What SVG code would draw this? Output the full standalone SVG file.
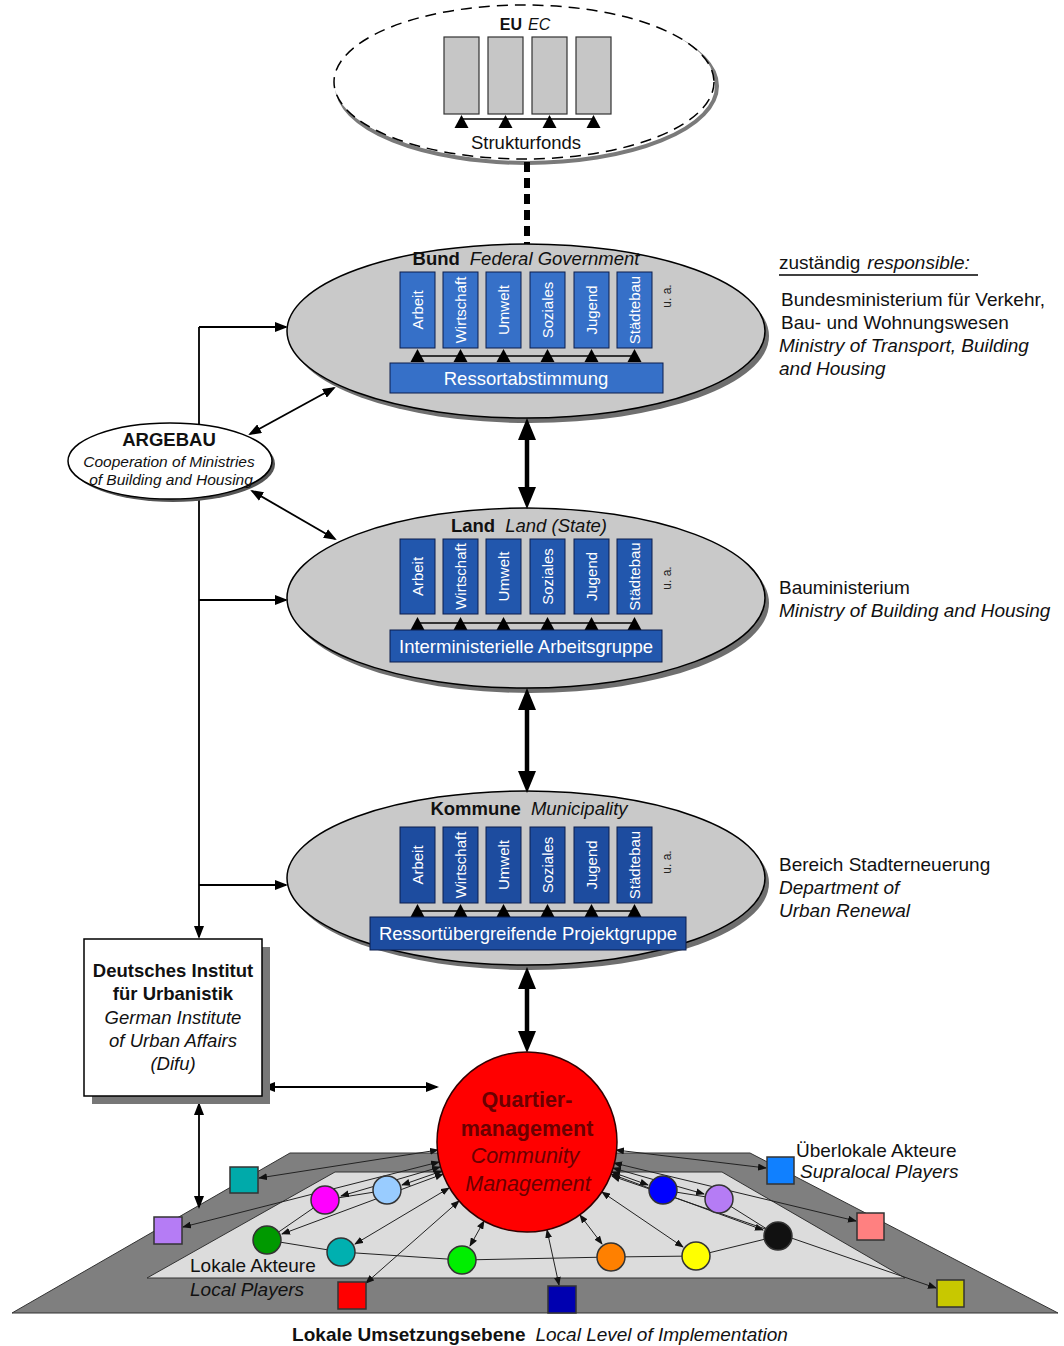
<svg xmlns="http://www.w3.org/2000/svg" xmlns:xlink="http://www.w3.org/1999/xlink" width="1064" height="1346" viewBox="0 0 1064 1346">
<style>
text{font-family:"Liberation Sans",Arial,sans-serif;fill:#111}
.b{font-weight:bold}
.i{font-style:italic}
.t18{font-size:18.5px}
.t19{font-size:19px}
.lvl{fill:#c9c9c9;stroke:#000;stroke-width:1.5}
.shd{fill:#6f6f6f}
.mb{stroke:#0b1d4d;stroke-width:1}
.mt{font-size:15px;fill:#fff;text-anchor:middle;dominant-baseline:central}
.bt{font-size:18.5px;fill:#fff;text-anchor:middle}
.ua{font-size:12px;fill:#222;text-anchor:middle;dominant-baseline:central}
.thick{stroke:#000;stroke-width:4.5;fill:none}
.med{stroke:#000;stroke-width:1.8;fill:none}
.thin{stroke:#222;stroke-width:1;fill:none}
.nd{stroke:#333;stroke-width:1.5}
.qm{fill:#6a0000}
</style>
<defs>
<marker id="ah" viewBox="0 0 22 18" refX="14" refY="9" markerWidth="22" markerHeight="18" markerUnits="userSpaceOnUse" orient="auto-start-reverse"><path d="M0,0 L22,9 L0,18 z" fill="#000"/></marker>
<marker id="am" viewBox="0 0 13 10" refX="11" refY="5" markerWidth="13" markerHeight="10" markerUnits="userSpaceOnUse" orient="auto-start-reverse"><path d="M0,0 L13,5 L0,10 z" fill="#000"/></marker>
<marker id="as" viewBox="0 0 9 7" refX="8" refY="3.5" markerWidth="9" markerHeight="7" markerUnits="userSpaceOnUse" orient="auto-start-reverse"><path d="M0,0 L9,3.5 L0,7 z" fill="#111"/></marker>
<path id="tri" d="M-7,0 L0,-13 L7,0 z" fill="#000"/>
</defs>

<!-- EU -->
<g id="eu">
<ellipse cx="527" cy="86" rx="190" ry="77" fill="none" stroke="#7a7a7a" stroke-width="4"/>
<ellipse cx="524" cy="82" rx="190" ry="77" fill="#fff" stroke="#000" stroke-width="1.5" stroke-dasharray="11 7"/>
<text x="525" y="30" text-anchor="middle" style="font-size:16px"><tspan class="b">EU</tspan><tspan class="i" dx="6">EC</tspan></text>
<g fill="#c6c6c6" stroke="#333" stroke-width="1.2">
<rect x="444" y="37" width="35" height="77"/>
<rect x="488" y="37" width="35" height="77"/>
<rect x="532" y="37" width="35" height="77"/>
<rect x="576" y="37" width="35" height="77"/>
</g>
<line x1="461" y1="119" x2="594" y2="119" stroke="#000" stroke-width="1.5"/>
<use xlink:href="#tri" x="461.5" y="128"/>
<use xlink:href="#tri" x="505.5" y="128"/>
<use xlink:href="#tri" x="549.5" y="128"/>
<use xlink:href="#tri" x="593.5" y="128"/>
<text x="526" y="149" text-anchor="middle" style="font-size:18.5px">Strukturfonds</text>
</g>

<!-- Bund -->
<g id="bund">
<ellipse class="shd" cx="530" cy="336" rx="239" ry="87"/>
<ellipse class="lvl" cx="526" cy="331" rx="239" ry="87"/>
<text x="526" y="265" text-anchor="middle" class="t18"><tspan class="b">Bund</tspan><tspan class="i" dx="10">Federal Government</tspan></text>
<g fill="#3670c8" class="mb">
<rect x="400" y="272" width="35" height="76"/><rect x="443" y="272" width="35" height="76"/><rect x="486" y="272" width="35" height="76"/><rect x="530" y="272" width="35" height="76"/><rect x="574" y="272" width="35" height="76"/><rect x="617" y="272" width="35" height="76"/>
</g>
<text class="mt" transform="translate(417.5,310) rotate(-90)">Arbeit</text>
<text class="mt" transform="translate(460.5,310) rotate(-90)">Wirtschaft</text>
<text class="mt" transform="translate(503.5,310) rotate(-90)">Umwelt</text>
<text class="mt" transform="translate(547.5,310) rotate(-90)">Soziales</text>
<text class="mt" transform="translate(591.5,310) rotate(-90)">Jugend</text>
<text class="mt" transform="translate(634.5,310) rotate(-90)">Städtebau</text>
<text class="ua" transform="translate(667,296) rotate(-90)">u. a.</text>
<line x1="417" y1="356" x2="635" y2="356" stroke="#000" stroke-width="1.5"/>
<use xlink:href="#tri" x="417.5" y="362"/><use xlink:href="#tri" x="460.5" y="362"/><use xlink:href="#tri" x="503.5" y="362"/><use xlink:href="#tri" x="547.5" y="362"/><use xlink:href="#tri" x="591.5" y="362"/><use xlink:href="#tri" x="634.5" y="362"/>
<rect x="390" y="363" width="273" height="30" fill="#3670c8" class="mb"/>
<text class="bt" x="526" y="385">Ressortabstimmung</text>
</g>

<!-- Land -->
<g id="land">
<ellipse class="shd" cx="530" cy="603" rx="239" ry="90"/>
<ellipse class="lvl" cx="526" cy="598" rx="239" ry="90"/>
<text x="529" y="532" text-anchor="middle" class="t18"><tspan class="b">Land</tspan><tspan class="i" dx="10">Land (State)</tspan></text>
<g fill="#2257ad" class="mb">
<rect x="400" y="539" width="35" height="75"/><rect x="443" y="539" width="35" height="75"/><rect x="486" y="539" width="35" height="75"/><rect x="530" y="539" width="35" height="75"/><rect x="574" y="539" width="35" height="75"/><rect x="617" y="539" width="35" height="75"/>
</g>
<text class="mt" transform="translate(417.5,576.5) rotate(-90)">Arbeit</text>
<text class="mt" transform="translate(460.5,576.5) rotate(-90)">Wirtschaft</text>
<text class="mt" transform="translate(503.5,576.5) rotate(-90)">Umwelt</text>
<text class="mt" transform="translate(547.5,576.5) rotate(-90)">Soziales</text>
<text class="mt" transform="translate(591.5,576.5) rotate(-90)">Jugend</text>
<text class="mt" transform="translate(634.5,576.5) rotate(-90)">Städtebau</text>
<text class="ua" transform="translate(667,578) rotate(-90)">u. a.</text>
<line x1="417" y1="623" x2="635" y2="623" stroke="#000" stroke-width="1.5"/>
<use xlink:href="#tri" x="417.5" y="630"/><use xlink:href="#tri" x="460.5" y="630"/><use xlink:href="#tri" x="503.5" y="630"/><use xlink:href="#tri" x="547.5" y="630"/><use xlink:href="#tri" x="591.5" y="630"/><use xlink:href="#tri" x="634.5" y="630"/>
<rect x="390" y="630" width="272" height="32" fill="#2257ad" class="mb"/>
<text class="bt" x="526" y="653">Interministerielle Arbeitsgruppe</text>
</g>

<!-- Kommune -->
<g id="kommune">
<ellipse class="shd" cx="530" cy="883" rx="239" ry="87"/>
<ellipse class="lvl" cx="526" cy="878" rx="239" ry="87"/>
<text x="529" y="815" text-anchor="middle" class="t18"><tspan class="b">Kommune</tspan><tspan class="i" dx="10">Municipality</tspan></text>
<g fill="#1d4c9f" class="mb">
<rect x="400" y="827" width="35" height="76"/><rect x="443" y="827" width="35" height="76"/><rect x="486" y="827" width="35" height="76"/><rect x="530" y="827" width="35" height="76"/><rect x="574" y="827" width="35" height="76"/><rect x="617" y="827" width="35" height="76"/>
</g>
<text class="mt" transform="translate(417.5,865) rotate(-90)">Arbeit</text>
<text class="mt" transform="translate(460.5,865) rotate(-90)">Wirtschaft</text>
<text class="mt" transform="translate(503.5,865) rotate(-90)">Umwelt</text>
<text class="mt" transform="translate(547.5,865) rotate(-90)">Soziales</text>
<text class="mt" transform="translate(591.5,865) rotate(-90)">Jugend</text>
<text class="mt" transform="translate(634.5,865) rotate(-90)">Städtebau</text>
<text class="ua" transform="translate(667,862) rotate(-90)">u. a.</text>
<line x1="417" y1="911" x2="635" y2="911" stroke="#000" stroke-width="1.5"/>
<use xlink:href="#tri" x="417.5" y="917"/><use xlink:href="#tri" x="460.5" y="917"/><use xlink:href="#tri" x="503.5" y="917"/><use xlink:href="#tri" x="547.5" y="917"/><use xlink:href="#tri" x="591.5" y="917"/><use xlink:href="#tri" x="634.5" y="917"/>
<rect x="370" y="917" width="316" height="33" fill="#1d4c9f" class="mb"/>
<text class="bt" x="528" y="940">Ressortübergreifende Projektgruppe</text>
</g>

<!-- right texts -->
<g id="responsible">
<text x="779" y="269" class="t19">zuständig<tspan class="i" dx="7">responsible:</tspan></text>
<line x1="779" y1="275" x2="978" y2="275" stroke="#000" stroke-width="1.5"/>
<text x="781" y="306" class="t19">Bundesministerium für Verkehr,</text>
<text x="781" y="329" class="t19">Bau- und Wohnungswesen</text>
<text x="779" y="352" class="t19 i">Ministry of Transport, Building</text>
<text x="779" y="375" class="t19 i">and Housing</text>
</g>
<g id="land-resp">
<text x="779" y="594" class="t19">Bauministerium</text>
<text x="779" y="617" class="t19 i">Ministry of Building and Housing</text>
</g>
<g id="kommune-resp">
<text x="779" y="871" class="t19">Bereich Stadterneuerung</text>
<text x="779" y="894" class="t19 i">Department of</text>
<text x="779" y="917" class="t19 i">Urban Renewal</text>
</g>

<!-- platform -->
<g id="platform">
<polygon points="12,1313 290,1153 750,1153 1058,1313" fill="#7f7f7f" stroke="#333" stroke-width="1"/>
<polygon points="147,1278 335,1172 722,1172 905,1278" fill="#dcdcdc" stroke="#333" stroke-width="1"/>
<text x="190" y="1272" class="t19">Lokale Akteure</text>
<text x="190" y="1296" class="t19 i">Local Players</text>
<text x="796" y="1157" class="t19">Überlokale Akteure</text>
<text x="800" y="1178" class="t19 i">Supralocal Players</text>
</g>

<!-- connectors -->
<g id="connectors">
<line x1="527" y1="162" x2="527" y2="244" stroke="#000" stroke-width="6" stroke-dasharray="10 6"/>
<line class="thick" x1="527" y1="426" x2="527" y2="501" marker-start="url(#ah)" marker-end="url(#ah)"/>
<line class="thick" x1="527" y1="696" x2="527" y2="785" marker-start="url(#ah)" marker-end="url(#ah)"/>
<line class="thick" x1="527" y1="975" x2="527" y2="1045" marker-start="url(#ah)" marker-end="url(#ah)"/>
<polyline class="med" points="199,327 199,937" marker-end="url(#am)"/>
<line class="med" x1="199" y1="327" x2="286" y2="327" marker-end="url(#am)"/>
<line class="med" x1="199" y1="600" x2="286" y2="600" marker-end="url(#am)"/>
<line class="med" x1="199" y1="885" x2="286" y2="885" marker-end="url(#am)"/>
<line class="med" x1="250" y1="434" x2="334" y2="388" marker-start="url(#am)" marker-end="url(#am)"/>
<line class="med" x1="252" y1="491" x2="335" y2="539" marker-start="url(#am)" marker-end="url(#am)"/>
<line class="med" x1="264" y1="1087" x2="437" y2="1087" marker-start="url(#am)" marker-end="url(#am)"/>
<line class="med" x1="199" y1="1104" x2="199" y2="1207" marker-start="url(#am)" marker-end="url(#am)"/>
<g class="thin">
<line x1="325" y1="1200" x2="387" y2="1190"/>
<line x1="325" y1="1200" x2="267" y2="1240"/>
<line x1="267" y1="1240" x2="341" y2="1252"/>
<line x1="341" y1="1252" x2="462" y2="1260"/>
<line x1="462" y1="1260" x2="611" y2="1257"/>
<line x1="611" y1="1257" x2="696" y2="1256"/>
<line x1="696" y1="1256" x2="778" y2="1236"/>
<line x1="778" y1="1236" x2="719" y2="1199"/>
<line x1="719" y1="1199" x2="663" y2="1190"/>
</g>
<g class="thin" marker-start="url(#as)" marker-end="url(#as)">
<line x1="438" y1="1150" x2="259" y2="1178"/>
<line x1="439" y1="1162" x2="183" y2="1227"/>
<line x1="440" y1="1167" x2="341" y2="1196"/>
<line x1="442" y1="1171" x2="402" y2="1185"/>
<line x1="443" y1="1174" x2="282" y2="1234"/>
<line x1="449" y1="1188" x2="355" y2="1244"/>
<line x1="484" y1="1221" x2="470" y2="1246"/>
<line x1="459" y1="1201" x2="366" y2="1283"/>
<line x1="547" y1="1230" x2="559" y2="1285"/>
<line x1="580" y1="1215" x2="602" y2="1244"/>
<line x1="602" y1="1192" x2="683" y2="1247"/>
<line x1="612" y1="1172" x2="648" y2="1185"/>
<line x1="613" y1="1168" x2="704" y2="1194"/>
<line x1="611" y1="1174" x2="763" y2="1230"/>
<line x1="616" y1="1150" x2="766" y2="1168"/>
<line x1="614" y1="1163" x2="856" y2="1221"/>
<line x1="612" y1="1176" x2="936" y2="1288"/>
</g>
</g>

<!-- ARGEBAU -->
<g id="argebau">
<ellipse cx="173" cy="464" rx="102" ry="38" fill="#555"/>
<ellipse cx="170" cy="461" rx="102" ry="38" fill="#fff" stroke="#000" stroke-width="1.5"/>
<text x="169" y="446" text-anchor="middle" class="b" style="font-size:18.5px">ARGEBAU</text>
<text x="169" y="467" text-anchor="middle" class="i" style="font-size:15.5px">Cooperation of Ministries</text>
<text x="171" y="485" text-anchor="middle" class="i" style="font-size:15.5px">of Building and Housing</text>
</g>

<!-- Difu -->
<g id="difu">
<rect x="92" y="947" width="178" height="157" fill="#777"/>
<rect x="84" y="939" width="178" height="157" fill="#fff" stroke="#000" stroke-width="1.5"/>
<text x="173" y="977" text-anchor="middle" class="b t18">Deutsches Institut</text>
<text x="173" y="1000" text-anchor="middle" class="b t18">für Urbanistik</text>
<text x="173" y="1024" text-anchor="middle" class="i t18">German Institute</text>
<text x="173" y="1047" text-anchor="middle" class="i t18">of Urban Affairs</text>
<text x="173" y="1070" text-anchor="middle" class="i t18">(Difu)</text>
</g>

<!-- Quartiermanagement -->
<g id="quartiermanagement">
<circle cx="527" cy="1142" r="90" fill="#ff0000" stroke="#300" stroke-width="1.5"/>
<g text-anchor="middle" style="font-size:21.5px">
<text x="527" y="1107" class="b qm">Quartier-</text>
<text x="527" y="1136" class="b qm">management</text>
<text x="525" y="1163" class="i qm">Community</text>
<text x="528" y="1191" class="i qm">Management</text>
</g>
</g>

<!-- local players -->
<g id="players">
<rect class="nd" x="230" y="1167" width="28" height="26" fill="#00aaaa"/>
<rect class="nd" x="154" y="1217" width="28" height="27" fill="#b57cf5"/>
<rect class="nd" x="338" y="1282" width="28" height="27" fill="#ff0000"/>
<rect class="nd" x="548" y="1286" width="28" height="27" fill="#0000b0"/>
<rect class="nd" x="767" y="1157" width="27" height="27" fill="#1080ff"/>
<rect class="nd" x="857" y="1213" width="27" height="27" fill="#ff8080"/>
<rect class="nd" x="937" y="1280" width="27" height="27" fill="#c8c800"/>
<circle class="nd" cx="325" cy="1200" r="14" fill="#ff00ff"/>
<circle class="nd" cx="387" cy="1190" r="14" fill="#99ccff"/>
<circle class="nd" cx="267" cy="1240" r="14" fill="#009900"/>
<circle class="nd" cx="341" cy="1252" r="14" fill="#00b0b0"/>
<circle class="nd" cx="462" cy="1260" r="14" fill="#00ee00"/>
<circle class="nd" cx="611" cy="1257" r="14" fill="#ff8000"/>
<circle class="nd" cx="696" cy="1256" r="14" fill="#ffff00"/>
<circle class="nd" cx="663" cy="1190" r="14" fill="#0000ff"/>
<circle class="nd" cx="719" cy="1199" r="14" fill="#b57cf5"/>
<circle class="nd" cx="778" cy="1236" r="14" fill="#111"/>
</g>

<text x="540" y="1341" text-anchor="middle" style="font-size:19px"><tspan class="b">Lokale Umsetzungsebene</tspan><tspan class="i" dx="10">Local Level of Implementation</tspan></text>
</svg>
